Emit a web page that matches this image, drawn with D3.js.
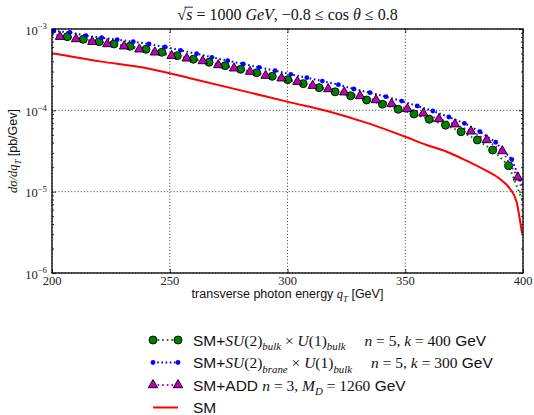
<!DOCTYPE html>
<html>
<head>
<meta charset="utf-8">
<script src="https://cdn.jsdelivr.net/npm/d3@7"></script>
<style>
  html, body { margin: 0; padding: 0; background: #fff; }
  svg { display: block; }
</style>
</head>
<body>
<svg id="chart" width="534" height="415"></svg>
<script>
// Differential cross section dσ/dq_T versus transverse photon energy q_T.
// SM + SU(2)_bulk x U(1)_bulk  (n = 5, k = 400 GeV)
const bulkQ = [200, 206.5, 213.3, 220.0, 226.3, 233.1, 239.9, 246.6, 253.2, 260.0, 266.7, 273.5, 280.1,
  286.9, 293.5, 300.1, 306.7, 313.4, 320.2, 326.8, 333.6, 340.3, 347.0, 353.7, 360.2, 367.1, 373.7,
  380.6, 387.1, 393.9, 400];
const bulkSigma = [8.6e-4, 8.04e-4, 7.47e-4, 6.98e-4, 6.54e-4, 6.13e-4, 5.63e-4, 5.17e-4, 4.69e-4, 4.25e-4,
  3.90e-4, 3.54e-4, 3.19e-4, 2.90e-4, 2.62e-4, 2.38e-4, 2.13e-4, 1.90e-4, 1.69e-4, 1.51e-4, 1.34e-4,
  1.19e-4, 1.03e-4, 9.02e-5, 7.76e-5, 6.57e-5, 5.46e-5, 4.32e-5, 3.25e-5, 2.09e-5, 7.5e-6];

// SM + SU(2)_brane x U(1)_bulk  (n = 5, k = 300 GeV)
const braneQ = [200.8, 207.6, 214.4, 221.1, 227.7, 234.5, 241.2, 248.0, 254.6, 261.4, 267.9, 274.6, 281.2,
  288.0, 294.7, 301.4, 308.2, 314.8, 321.6, 328.2, 335.0, 341.8, 348.5, 355.1, 361.7, 368.5, 375.1,
  381.7, 388.4, 395.2, 400];
const braneSigma = [9.45e-4, 9.11e-4, 8.27e-4, 7.82e-4, 7.39e-4, 6.98e-4, 6.54e-4, 6.01e-4, 5.47e-4, 4.98e-4,
  4.49e-4, 4.08e-4, 3.71e-4, 3.38e-4, 3.07e-4, 2.77e-4, 2.52e-4, 2.29e-4, 2.07e-4, 1.83e-4, 1.65e-4,
  1.47e-4, 1.30e-4, 1.13e-4, 9.81e-5, 8.28e-5, 6.93e-5, 5.46e-5, 4.05e-5, 2.50e-5, 1.15e-5];

// SM + ADD  (n = 3, M_D = 1260 GeV)
const addQ = [200, 203.4, 210.2, 217.1, 223.5, 230.6, 237.1, 243.7, 250.8, 257.2, 264.0, 270.6, 277.3, 284.1,
  290.7, 297.5, 304.2, 310.7, 317.3, 324.1, 330.8, 337.6, 344.2, 350.9, 357.7, 364.3, 371.1, 377.9,
  384.6, 391.2, 397.8, 400];
const addSigma = [8.6e-4, 8.04e-4, 7.53e-4, 6.98e-4, 6.54e-4, 6.13e-4, 5.63e-4, 5.17e-4, 4.69e-4, 4.36e-4,
  4.04e-4, 3.61e-4, 3.29e-4, 2.99e-4, 2.67e-4, 2.48e-4, 2.25e-4, 2.01e-4, 1.83e-4, 1.67e-4, 1.50e-4,
  1.34e-4, 1.20e-4, 1.04e-4, 9.19e-5, 7.82e-5, 6.75e-5, 5.52e-5, 4.32e-5, 3.16e-5, 1.50e-5, 1.0e-5];

// Standard Model
const smQ = [200, 220.4, 240.3, 258.6, 284.1, 300.2, 318.0, 335.0, 350.3, 359.1, 367.6, 376.1, 384.6,
  390.2, 394.5, 397.3, 398.7, 399.6];
const smSigma = [5.03e-4, 4.0e-4, 3.29e-4, 2.48e-4, 1.65e-4, 1.27e-4, 9.62e-5, 6.81e-5, 4.70e-5, 3.75e-5,
  3.10e-5, 2.40e-5, 1.80e-5, 1.43e-5, 1.08e-5, 7.46e-6, 4.48e-6, 3.08e-6];

const xTicks = [200, 250, 300, 350, 400];
const yTicks = [1e-6, 1e-5, 1e-4, 1e-3];
const yTickExp = ["\u22126", "\u22125", "\u22124", "\u22123"];

const SANS = "'Liberation Sans', Arial, sans-serif";
const SERIF = "'Liberation Serif', 'DejaVu Serif', serif";

const svg = d3.select("#chart");
const x = d3.scaleLinear().domain([200, 400]).range([52, 523]);
const y = d3.scaleLog().domain([1e-6, 1e-3]).range([273, 29]);
const [x0, x1] = x.range();
const [yB, yT] = y.range();

// rich text helper: parts of {t, f: 'sans'|'serif'|'it', sub, sup, dx}
function rich(textSel, parts, size) {
  let shift = 0;
  parts.forEach(p => {
    const ts = textSel.append("tspan").text(p.t);
    const fam = p.f === "sans" ? SANS : SERIF;
    ts.attr("font-family", fam).attr("font-style", p.f === "it" ? "italic" : "normal");
    let target = 0;
    let fs = size;
    if (p.sub) { target = 0.3 * size; fs = 0.7 * size; }
    if (p.sup) { target = -0.42 * size; fs = 0.7 * size; }
    ts.attr("font-size", fs);
    if (target !== shift) { ts.attr("dy", target - shift); shift = target; }
    if (p.dx) ts.attr("dx", p.dx);
  });
  return textSel;
}

// grid
const grid = svg.append("g").attr("stroke", "#222").attr("stroke-width", 0.9).attr("stroke-dasharray", "1,2.2");
grid.selectAll("line.gx").data(xTicks).join("line")
  .attr("x1", d => x(d)).attr("x2", d => x(d)).attr("y1", yT).attr("y2", yB);
grid.selectAll("line.gy").data(yTicks).join("line")
  .attr("y1", d => y(d)).attr("y2", d => y(d)).attr("x1", x0).attr("x2", x1);

// ticks (inward, all four sides)
const minor = [];
[-6, -5, -4].forEach(k => { for (let m = 2; m <= 9; m++) minor.push(m * Math.pow(10, k)); });
function tickAxis(axis, tx, ty) {
  const g = svg.append("g").attr("transform", `translate(${tx},${ty})`).call(axis);
  g.select(".domain").remove();
  g.selectAll("text").remove();
  g.selectAll("line").attr("stroke", "#000").attr("stroke-width", 0.8);
}
tickAxis(d3.axisLeft(y).tickValues(yTicks).tickSize(-4), x0, 0);
tickAxis(d3.axisLeft(y).tickValues(minor).tickSize(-2), x0, 0);
tickAxis(d3.axisRight(y).tickValues(yTicks).tickSize(-4), x1, 0);
tickAxis(d3.axisRight(y).tickValues(minor).tickSize(-2), x1, 0);
tickAxis(d3.axisBottom(x).tickValues(xTicks).tickSize(-4), 0, yB);
tickAxis(d3.axisTop(x).tickValues(xTicks).tickSize(-4), 0, yT);

// series
const pts = (qs, ss) => qs.map((q, i) => ({ q, s: ss[i] }));
const line = d3.line().x(d => x(d.q)).y(d => y(d.s));
const plot = svg.append("g");

const bulk = pts(bulkQ, bulkSigma);
const brane = pts(braneQ, braneSigma);
const add = pts(addQ, addSigma);
const sm = pts(smQ, smSigma);
const inner = d => d.q > 200 && d.q < 400;

plot.append("path").datum(bulk).attr("d", line).attr("fill", "none")
  .attr("stroke", "#008000").attr("stroke-width", 2).attr("stroke-dasharray", "1.6,3");
plot.append("path").datum(brane).attr("d", line).attr("fill", "none")
  .attr("stroke", "#0000ff").attr("stroke-width", 2).attr("stroke-dasharray", "1.6,2.6");
plot.append("path").datum(add).attr("d", line).attr("fill", "none")
  .attr("stroke", "#bf00bf").attr("stroke-width", 2).attr("stroke-dasharray", "1.6,3");
plot.append("path").datum(sm).attr("d", d3.line().x(d => x(d.q)).y(d => y(d.s)).curve(d3.curveMonotoneX))
  .attr("fill", "none").attr("stroke", "#ff0000").attr("stroke-width", 2);

const tri = d3.symbol().type(d3.symbolTriangle).size(38);
plot.selectAll("circle.bulk").data(bulk.filter(inner)).join("circle")
  .attr("cx", d => x(d.q)).attr("cy", d => y(d.s)).attr("r", 4)
  .attr("fill", "#008000").attr("stroke", "#000").attr("stroke-width", 0.9);
plot.selectAll("circle.brane").data(brane.filter(inner)).join("circle")
  .attr("cx", d => x(d.q)).attr("cy", d => y(d.s)).attr("r", 2.4)
  .attr("fill", "#0000ff");
plot.selectAll("path.add").data(add.filter(inner)).join("path")
  .attr("d", tri).attr("transform", d => `translate(${x(d.q)},${y(d.s)})`)
  .attr("fill", "#bf00bf").attr("stroke", "#000").attr("stroke-width", 0.9);

// frame
svg.append("rect").attr("x", x0).attr("y", yT).attr("width", x1 - x0).attr("height", yB - yT)
  .attr("fill", "none").attr("stroke", "#000").attr("stroke-width", 1.3);

// tick labels
svg.append("g").selectAll("text").data(xTicks).join("text")
  .attr("x", d => x(d)).attr("y", yB + 12).attr("text-anchor", "middle")
  .attr("font-family", SERIF).attr("font-size", 12.5).attr("fill", "#222").text(d => d);
yTicks.forEach((v, i) => {
  const t = svg.append("text").attr("x", 47).attr("y", y(v) + 5.5).attr("text-anchor", "end").attr("fill", "#222");
  rich(t, [{ t: "10", f: "serif" }, { t: yTickExp[i], f: "serif", sup: true }], 12.5);
});

// title
const TS = 16;
const title = svg.append("text").attr("x", (x0 + x1) / 2).attr("y", 20).attr("text-anchor", "middle").attr("fill", "#111");
rich(title, [
  { t: "\u221A", f: "serif" }, { t: "s", f: "it" }, { t: " = 1000 ", f: "serif" }, { t: "GeV", f: "it" },
  { t: ", \u22120.8 \u2264 cos ", f: "serif" }, { t: "\u03B8", f: "it" }, { t: " \u2264 0.8", f: "serif" }
], TS);
{
  const node = title.node();
  const e0 = node.getExtentOfChar(0), e1 = node.getExtentOfChar(1);
  const yo = 20 - 0.8 * TS;
  svg.append("line").attr("x1", e0.x + e0.width * 0.8).attr("x2", e1.x + e1.width + 0.5)
    .attr("y1", yo).attr("y2", yo).attr("stroke", "#111").attr("stroke-width", 0.9);
}

// axis labels
const xl = svg.append("text").attr("x", (x0 + x1) / 2).attr("y", 298).attr("text-anchor", "middle").attr("fill", "#111");
rich(xl, [{ t: "transverse photon energy ", f: "sans" }, { t: "q", f: "it" }, { t: "T", f: "it", sub: true },
  { t: " [GeV]", f: "sans" }], 12.5);
const yl = svg.append("text").attr("transform", `translate(17,${(yT + yB) / 2}) rotate(-90)`)
  .attr("text-anchor", "middle").attr("fill", "#111");
rich(yl, [{ t: "d\u03C3/dq", f: "it" }, { t: "T", f: "it", sub: true }, { t: " [pb/Gev]", f: "sans" }], 12.5);

// legend
const legendRows = [
  { kind: "bulk", parts: [{ t: "SM+", f: "sans" }, { t: "SU", f: "it" }, { t: "(2)", f: "serif" }, { t: "bulk", f: "it", sub: true },
    { t: " \u00D7 ", f: "serif" }, { t: "U", f: "it" }, { t: "(1)", f: "serif" }, { t: "bulk", f: "it", sub: true },
    { t: "n", f: "it", dx: 19 }, { t: " = 5, ", f: "serif" }, { t: "k", f: "it" }, { t: " = 400", f: "serif" }, { t: " GeV", f: "sans" }] },
  { kind: "brane", parts: [{ t: "SM+", f: "sans" }, { t: "SU", f: "it" }, { t: "(2)", f: "serif" }, { t: "brane", f: "it", sub: true },
    { t: " \u00D7 ", f: "serif" }, { t: "U", f: "it" }, { t: "(1)", f: "serif" }, { t: "bulk", f: "it", sub: true },
    { t: "n", f: "it", dx: 19 }, { t: " = 5, ", f: "serif" }, { t: "k", f: "it" }, { t: " = 300", f: "serif" }, { t: " GeV", f: "sans" }] },
  { kind: "add", parts: [{ t: "SM+ADD ", f: "sans" }, { t: "n", f: "it" }, { t: " = 3, ", f: "serif" }, { t: "M", f: "it" },
    { t: "D", f: "it", sub: true }, { t: " = 1260", f: "serif" }, { t: " GeV", f: "sans" }] },
  { kind: "sm", parts: [{ t: "SM", f: "sans" }] }
];
const lg = svg.append("g");
legendRows.forEach((r, i) => {
  const cy = 340 + i * 22.5;
  const hx0 = 153, hx1 = 178;
  const styles = {
    bulk: ["#008000", "1.6,3"], brane: ["#0000ff", "1.6,2.6"], add: ["#bf00bf", "1.6,3"], sm: ["#ff0000", null]
  };
  const [col, dash] = styles[r.kind];
  const ln = lg.append("line").attr("x1", hx0).attr("x2", hx1).attr("y1", cy).attr("y2", cy)
    .attr("stroke", col).attr("stroke-width", 2);
  if (dash) ln.attr("stroke-dasharray", dash);
  [hx0, hx1].forEach(hx => {
    if (r.kind === "bulk") lg.append("circle").attr("cx", hx).attr("cy", cy).attr("r", 4)
      .attr("fill", col).attr("stroke", "#000").attr("stroke-width", 0.9);
    if (r.kind === "brane") lg.append("circle").attr("cx", hx).attr("cy", cy).attr("r", 2.4).attr("fill", col);
    if (r.kind === "add") lg.append("path").attr("d", tri).attr("transform", `translate(${hx},${cy})`)
      .attr("fill", col).attr("stroke", "#000").attr("stroke-width", 0.9);
  });
  const t = lg.append("text").attr("x", 193).attr("y", cy + 5.5).attr("fill", "#111");
  rich(t, r.parts, 15.5);
});
</script>
</body>
</html>
